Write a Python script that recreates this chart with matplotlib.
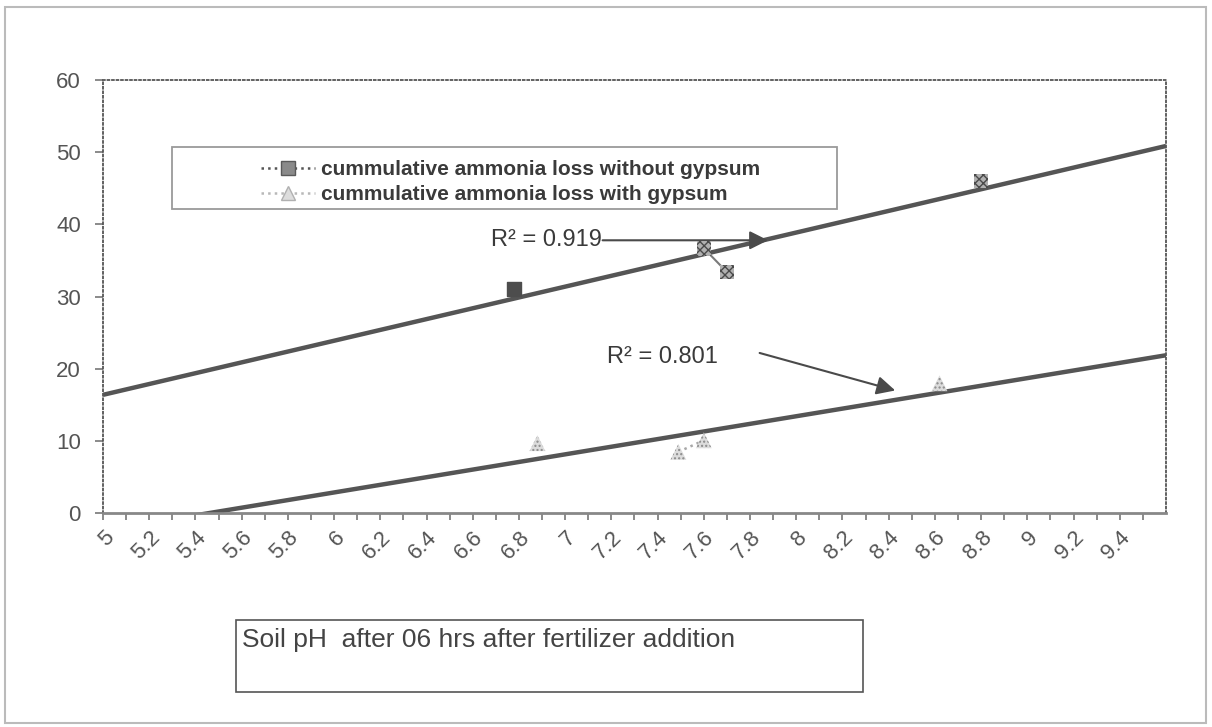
import numpy as np
import matplotlib.pyplot as plt
from matplotlib.lines import Line2D
from matplotlib.patches import Rectangle

plt.rcParams['font.family'] = ['Liberation Sans', 'DejaVu Sans']
plt.rcParams['hatch.linewidth'] = 1.0

# soil pH vs cumulative ammonia loss (nan = gap in the series line)
ph_no_gyp = [6.78, np.nan, 7.60, 7.70, np.nan, 8.80]
loss_no_gyp = [31.0, np.nan, 36.7, 33.4, np.nan, 46.0]
ph_gyp = [6.88, np.nan, 7.49, 7.60, np.nan, 8.62]
loss_gyp = [9.7, np.nan, 8.5, 10.1, np.nan, 18.0]

series_names = ['cummulative ammonia loss without gypsum',
                'cummulative ammonia loss with gypsum']
r2_text = ['R² = 0.919', 'R² = 0.801']
x_ticks = np.round(np.arange(5.0, 9.41, 0.2), 1)
x_labels = ['%g' % v for v in x_ticks]
y_ticks = [0, 10, 20, 30, 40, 50, 60]
x_title = 'Soil pH  after 06 hrs after fertilizer addition'

fig = plt.figure(figsize=(12.12, 7.27), dpi=100)
ax = fig.add_axes([0.085, 0.294, 0.877, 0.596])


def trend(x, y):
    x = np.asarray(x)
    y = np.asarray(y)
    ok = ~np.isnan(x)
    return np.polyfit(x[ok], y[ok], 1)


xs = np.array([5.0, 9.6])
for xv, yv in [(ph_no_gyp, loss_no_gyp), (ph_gyp, loss_gyp)]:
    k, b = trend(xv, yv)
    ax.plot(xs, k * xs + b, color='#555555', lw=3.2, solid_capstyle='butt', zorder=2)

# series lines and markers
ax.plot(ph_no_gyp, loss_no_gyp, ls='-', color='#7a7a7a', lw=1.5, zorder=3)
ax.plot(ph_gyp, loss_gyp, ls=':', color='#a8a8a8', lw=1.8, zorder=3)
ax.scatter(ph_no_gyp, loss_no_gyp, marker='s', s=110, facecolor='#b0b0b0',
           edgecolor='#4a4a4a', hatch='xxxx', lw=0, zorder=4)
ax.scatter(ph_no_gyp[:1], loss_no_gyp[:1], marker='s', s=110, color='#4d4d4d', zorder=5)
ax.scatter(ph_gyp, loss_gyp, marker='^', s=130, facecolor='#dcdcdc',
           edgecolor='#8a8a8a', hatch='....', lw=0, zorder=4)

# R^2 labels with arrows
ax.annotate('', xy=(7.89, 37.8), xytext=(7.15, 37.8),
            arrowprops=dict(arrowstyle='-|>', mutation_scale=28, color='#4a4a4a', lw=1.5))
ax.text(7.16, 37.8, r2_text[0], fontsize=17, color='#3a3a3a', ha='right', va='center')
ax.annotate('', xy=(8.44, 16.9), xytext=(7.83, 22.3),
            arrowprops=dict(arrowstyle='-|>', mutation_scale=28, color='#4a4a4a', lw=1.5))
ax.text(7.18, 21.6, r2_text[1], fontsize=17, color='#3a3a3a', ha='left', va='center')

ax.set_xlim(5.0, 9.6)
ax.set_ylim(0, 60)
ax.set_yticks(y_ticks)
ax.set_xticks(x_ticks)
ax.set_xticklabels(x_labels, rotation=45, ha='right', va='top', rotation_mode='anchor')
ax.set_xticks(np.round(np.arange(5.1, 9.61, 0.2), 1), minor=True)
ax.tick_params(axis='x', which='both', length=5, width=1.2, color='#777777',
               labelsize=16, labelcolor='#555555', pad=5)
ax.tick_params(axis='y', length=6, width=1.2, color='#777777',
               labelsize=16, labelcolor='#555555', pad=10)

for side in ['top', 'right', 'left']:
    ax.spines[side].set_linestyle((0, (1, 1.5)))
    ax.spines[side].set_color('#555555')
    ax.spines[side].set_linewidth(1.3)
ax.spines['bottom'].set_color('#888888')
ax.spines['bottom'].set_linewidth(2)

# legend in its own box
fig.patches.append(Rectangle((0.142, 0.7125), 0.549, 0.0853, transform=fig.transFigure,
                             fill=False, ec='#9a9a9a', lw=1.3))
handles = [Line2D([], [], ls=':', color='#555555', lw=1.8, marker='s', ms=10,
                  mfc='#8a8a8a', mec='#5a5a5a'),
           Line2D([], [], ls=':', color='#b8b8b8', lw=1.8, marker='^', ms=10,
                  mfc='#dddddd', mec='#b0b0b0')]
fig.legend(handles, series_names, loc='upper left', bbox_to_anchor=(0.215, 0.780),
           frameon=False, prop={'size': 15, 'weight': 'bold'}, labelcolor='#3a3a3a',
           handlelength=2.6, handletextpad=0.3, labelspacing=0.3, borderpad=0,
           borderaxespad=0)

# x-axis title box
fig.patches.append(Rectangle((0.1947, 0.048), 0.517, 0.099, transform=fig.transFigure,
                             fill=False, ec='#555555', lw=1.2))
fig.text(0.1997, 0.119, x_title, fontsize=19, color='#444444', ha='left', va='center')

# outer chart frame
fig.patches.append(Rectangle((0.004, 0.006), 0.991, 0.984, transform=fig.transFigure,
                             fill=False, ec='#bbbbbb', lw=1.5))

fig.savefig('out.png', dpi=100)
